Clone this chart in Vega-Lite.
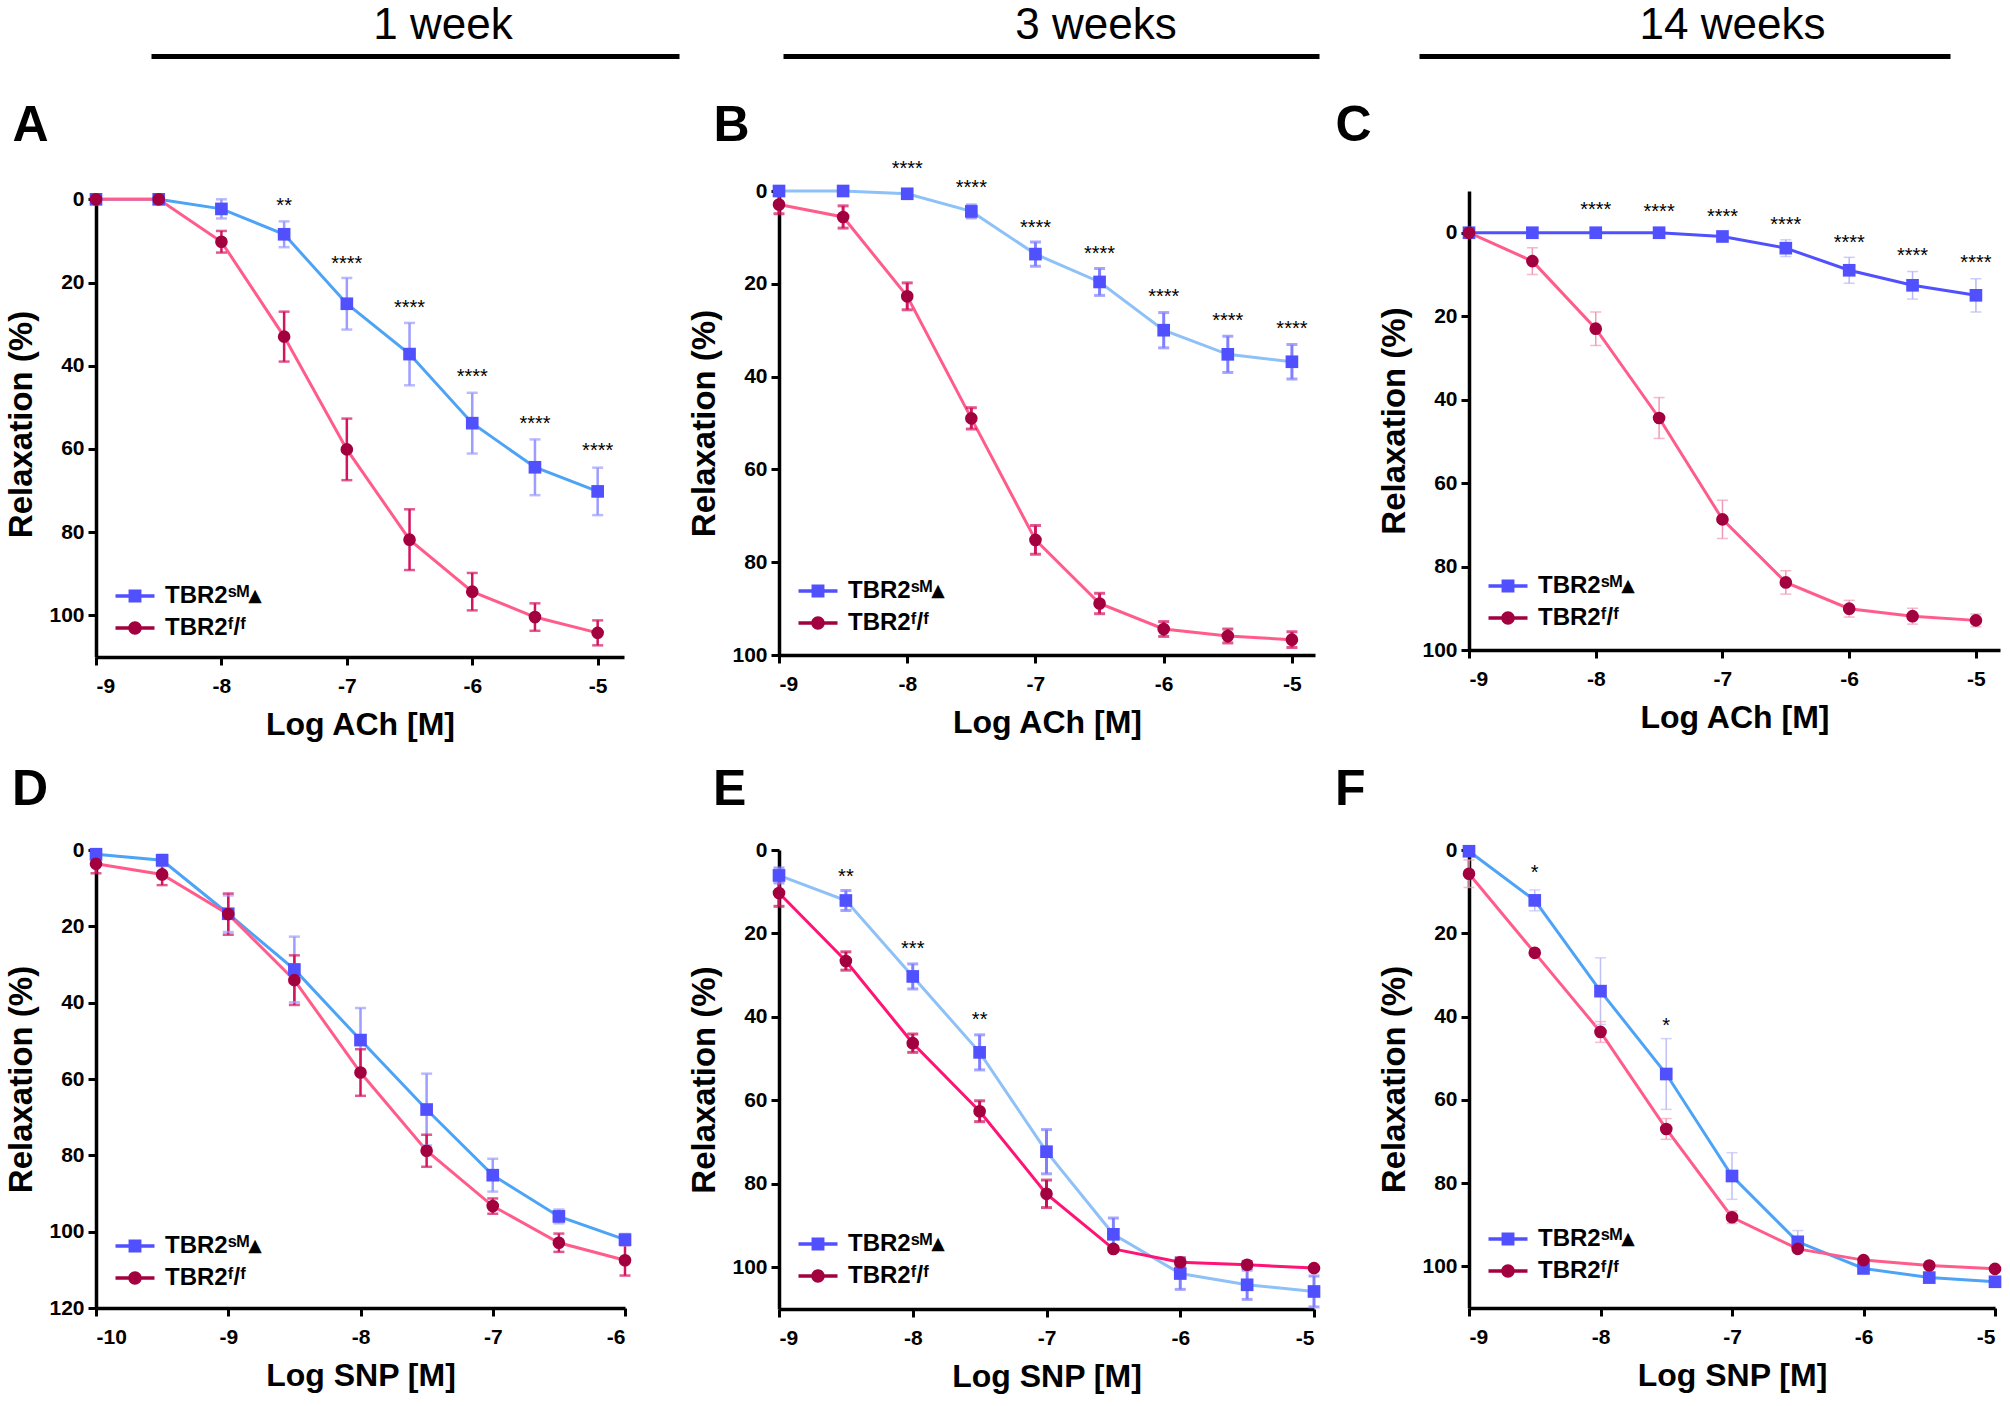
{
"$schema": "https://vega.github.io/schema/vega-lite/v6.json",
"background": "white",
"padding": {"left": 5, "top": 4, "right": 5, "bottom": 5},
"datasets": {
"A": [
{"logM": -9, "group": "TBR2ˢᴹ▴", "relaxation": 0, "lo": 0, "hi": 0},
{"logM": -8.5, "group": "TBR2ˢᴹ▴", "relaxation": 0, "lo": 0, "hi": 0},
{"logM": -8, "group": "TBR2ˢᴹ▴", "relaxation": 2.3, "lo": 0, "hi": 4.6},
{"logM": -7.5, "group": "TBR2ˢᴹ▴", "relaxation": 8.4, "lo": 5.3, "hi": 11.5},
{"logM": -7, "group": "TBR2ˢᴹ▴", "relaxation": 25.1, "lo": 18.9, "hi": 31.3},
{"logM": -6.5, "group": "TBR2ˢᴹ▴", "relaxation": 37.2, "lo": 29.7, "hi": 44.7},
{"logM": -6, "group": "TBR2ˢᴹ▴", "relaxation": 53.8, "lo": 46.5, "hi": 61.1},
{"logM": -5.5, "group": "TBR2ˢᴹ▴", "relaxation": 64.4, "lo": 57.7, "hi": 71.1},
{"logM": -5, "group": "TBR2ˢᴹ▴", "relaxation": 70.2, "lo": 64.5, "hi": 75.9},
{"logM": -9, "group": "TBR2ᶠ/ᶠ", "relaxation": 0, "lo": 0, "hi": 0},
{"logM": -8.5, "group": "TBR2ᶠ/ᶠ", "relaxation": 0, "lo": 0, "hi": 0},
{"logM": -8, "group": "TBR2ᶠ/ᶠ", "relaxation": 10.2, "lo": 7.6, "hi": 12.8},
{"logM": -7.5, "group": "TBR2ᶠ/ᶠ", "relaxation": 33, "lo": 27, "hi": 39},
{"logM": -7, "group": "TBR2ᶠ/ᶠ", "relaxation": 60.1, "lo": 52.7, "hi": 67.5},
{"logM": -6.5, "group": "TBR2ᶠ/ᶠ", "relaxation": 81.8, "lo": 74.5, "hi": 89.1},
{"logM": -6, "group": "TBR2ᶠ/ᶠ", "relaxation": 94.3, "lo": 89.8, "hi": 98.8},
{"logM": -5.5, "group": "TBR2ᶠ/ᶠ", "relaxation": 100.4, "lo": 97.1, "hi": 103.7},
{"logM": -5, "group": "TBR2ᶠ/ᶠ", "relaxation": 104.2, "lo": 101.2, "hi": 107.2}
],
"A_stars": [
{"logM": -7.5, "relaxation": 0.6, "label": "**"},
{"logM": -7, "relaxation": 14.6, "label": "****"},
{"logM": -6.5, "relaxation": 25.1, "label": "****"},
{"logM": -6, "relaxation": 41.8, "label": "****"},
{"logM": -5.5, "relaxation": 53, "label": "****"},
{"logM": -5, "relaxation": 59.6, "label": "****"}
],
"B": [
{"logM": -9, "group": "TBR2ˢᴹ▴", "relaxation": 0, "lo": 0, "hi": 0},
{"logM": -8.5, "group": "TBR2ˢᴹ▴", "relaxation": 0, "lo": 0, "hi": 0},
{"logM": -8, "group": "TBR2ˢᴹ▴", "relaxation": 0.6, "lo": 0, "hi": 1.2},
{"logM": -7.5, "group": "TBR2ˢᴹ▴", "relaxation": 4.4, "lo": 3, "hi": 5.8},
{"logM": -7, "group": "TBR2ˢᴹ▴", "relaxation": 13.6, "lo": 11, "hi": 16.2},
{"logM": -6.5, "group": "TBR2ˢᴹ▴", "relaxation": 19.6, "lo": 16.7, "hi": 22.5},
{"logM": -6, "group": "TBR2ˢᴹ▴", "relaxation": 30, "lo": 26.2, "hi": 33.8},
{"logM": -5.5, "group": "TBR2ˢᴹ▴", "relaxation": 35.2, "lo": 31.3, "hi": 39.1},
{"logM": -5, "group": "TBR2ˢᴹ▴", "relaxation": 36.8, "lo": 33.1, "hi": 40.5},
{"logM": -9, "group": "TBR2ᶠ/ᶠ", "relaxation": 2.9, "lo": 0.9, "hi": 4.9},
{"logM": -8.5, "group": "TBR2ᶠ/ᶠ", "relaxation": 5.6, "lo": 3.2, "hi": 8},
{"logM": -8, "group": "TBR2ᶠ/ᶠ", "relaxation": 22.7, "lo": 19.8, "hi": 25.6},
{"logM": -7.5, "group": "TBR2ᶠ/ᶠ", "relaxation": 49, "lo": 46.7, "hi": 51.3},
{"logM": -7, "group": "TBR2ᶠ/ᶠ", "relaxation": 75.2, "lo": 72.1, "hi": 78.3},
{"logM": -6.5, "group": "TBR2ᶠ/ᶠ", "relaxation": 88.9, "lo": 86.7, "hi": 91.1},
{"logM": -6, "group": "TBR2ᶠ/ᶠ", "relaxation": 94.4, "lo": 92.8, "hi": 96},
{"logM": -5.5, "group": "TBR2ᶠ/ᶠ", "relaxation": 95.9, "lo": 94.4, "hi": 97.4},
{"logM": -5, "group": "TBR2ᶠ/ᶠ", "relaxation": 96.7, "lo": 95, "hi": 98.4}
],
"B_stars": [
{"logM": -8, "relaxation": -5.7, "label": "****"},
{"logM": -7.5, "relaxation": -1.5, "label": "****"},
{"logM": -7, "relaxation": 7.1, "label": "****"},
{"logM": -6.5, "relaxation": 12.8, "label": "****"},
{"logM": -6, "relaxation": 21.9, "label": "****"},
{"logM": -5.5, "relaxation": 27.1, "label": "****"},
{"logM": -5, "relaxation": 28.9, "label": "****"}
],
"C": [
{"logM": -9, "group": "TBR2ˢᴹ▴", "relaxation": 0, "lo": 0, "hi": 0},
{"logM": -8.5, "group": "TBR2ˢᴹ▴", "relaxation": 0, "lo": 0, "hi": 0},
{"logM": -8, "group": "TBR2ˢᴹ▴", "relaxation": 0, "lo": 0, "hi": 0},
{"logM": -7.5, "group": "TBR2ˢᴹ▴", "relaxation": 0, "lo": 0, "hi": 0},
{"logM": -7, "group": "TBR2ˢᴹ▴", "relaxation": 0.9, "lo": 0.3, "hi": 1.5},
{"logM": -6.5, "group": "TBR2ˢᴹ▴", "relaxation": 3.7, "lo": 1.7, "hi": 5.7},
{"logM": -6, "group": "TBR2ˢᴹ▴", "relaxation": 9, "lo": 5.9, "hi": 12.1},
{"logM": -5.5, "group": "TBR2ˢᴹ▴", "relaxation": 12.6, "lo": 9.3, "hi": 15.9},
{"logM": -5, "group": "TBR2ˢᴹ▴", "relaxation": 15, "lo": 11, "hi": 19},
{"logM": -9, "group": "TBR2ᶠ/ᶠ", "relaxation": 0, "lo": 0, "hi": 0},
{"logM": -8.5, "group": "TBR2ᶠ/ᶠ", "relaxation": 6.8, "lo": 3.6, "hi": 10},
{"logM": -8, "group": "TBR2ᶠ/ᶠ", "relaxation": 23, "lo": 19, "hi": 27},
{"logM": -7.5, "group": "TBR2ᶠ/ᶠ", "relaxation": 44.4, "lo": 39.5, "hi": 49.3},
{"logM": -7, "group": "TBR2ᶠ/ᶠ", "relaxation": 68.7, "lo": 64.1, "hi": 73.3},
{"logM": -6.5, "group": "TBR2ᶠ/ᶠ", "relaxation": 83.8, "lo": 81, "hi": 86.6},
{"logM": -6, "group": "TBR2ᶠ/ᶠ", "relaxation": 90.1, "lo": 88.1, "hi": 92.1},
{"logM": -5.5, "group": "TBR2ᶠ/ᶠ", "relaxation": 91.9, "lo": 90, "hi": 93.8},
{"logM": -5, "group": "TBR2ᶠ/ᶠ", "relaxation": 92.9, "lo": 91.4, "hi": 94.4}
],
"C_stars": [
{"logM": -8, "relaxation": -6.4, "label": "****"},
{"logM": -7.5, "relaxation": -5.9, "label": "****"},
{"logM": -7, "relaxation": -4.8, "label": "****"},
{"logM": -6.5, "relaxation": -2.7, "label": "****"},
{"logM": -6, "relaxation": 1.5, "label": "****"},
{"logM": -5.5, "relaxation": 4.5, "label": "****"},
{"logM": -5, "relaxation": 6.4, "label": "****"}
],
"D": [
{"logM": -10, "group": "TBR2ˢᴹ▴", "relaxation": 1.1, "lo": 0.1, "hi": 2.1},
{"logM": -9.5, "group": "TBR2ˢᴹ▴", "relaxation": 2.7, "lo": 1.2, "hi": 4.2},
{"logM": -9, "group": "TBR2ˢᴹ▴", "relaxation": 16.7, "lo": 11.9, "hi": 21.5},
{"logM": -8.5, "group": "TBR2ˢᴹ▴", "relaxation": 31.3, "lo": 22.7, "hi": 39.9},
{"logM": -8, "group": "TBR2ˢᴹ▴", "relaxation": 49.8, "lo": 41.4, "hi": 58.2},
{"logM": -7.5, "group": "TBR2ˢᴹ▴", "relaxation": 68, "lo": 58.6, "hi": 77.4},
{"logM": -7, "group": "TBR2ˢᴹ▴", "relaxation": 85.2, "lo": 80.9, "hi": 89.5},
{"logM": -6.5, "group": "TBR2ˢᴹ▴", "relaxation": 96, "lo": 94.2, "hi": 97.8},
{"logM": -6, "group": "TBR2ˢᴹ▴", "relaxation": 102.1, "lo": 100.6, "hi": 103.6},
{"logM": -10, "group": "TBR2ᶠ/ᶠ", "relaxation": 3.6, "lo": 1.1, "hi": 6.1},
{"logM": -9.5, "group": "TBR2ᶠ/ᶠ", "relaxation": 6.4, "lo": 3.6, "hi": 9.2},
{"logM": -9, "group": "TBR2ᶠ/ᶠ", "relaxation": 16.8, "lo": 11.4, "hi": 22.2},
{"logM": -8.5, "group": "TBR2ᶠ/ᶠ", "relaxation": 34.1, "lo": 27.6, "hi": 40.6},
{"logM": -8, "group": "TBR2ᶠ/ᶠ", "relaxation": 58.3, "lo": 52.2, "hi": 64.4},
{"logM": -7.5, "group": "TBR2ᶠ/ᶠ", "relaxation": 78.8, "lo": 74.6, "hi": 83},
{"logM": -7, "group": "TBR2ᶠ/ᶠ", "relaxation": 93.3, "lo": 91.3, "hi": 95.3},
{"logM": -6.5, "group": "TBR2ᶠ/ᶠ", "relaxation": 102.9, "lo": 100.5, "hi": 105.3},
{"logM": -6, "group": "TBR2ᶠ/ᶠ", "relaxation": 107.5, "lo": 103.5, "hi": 111.5}
],
"E": [
{"logM": -9, "group": "TBR2ˢᴹ▴", "relaxation": 6.1, "lo": 4.3, "hi": 7.9},
{"logM": -8.5, "group": "TBR2ˢᴹ▴", "relaxation": 12.1, "lo": 9.7, "hi": 14.5},
{"logM": -8, "group": "TBR2ˢᴹ▴", "relaxation": 30.3, "lo": 27.3, "hi": 33.3},
{"logM": -7.5, "group": "TBR2ˢᴹ▴", "relaxation": 48.5, "lo": 44.3, "hi": 52.7},
{"logM": -7, "group": "TBR2ˢᴹ▴", "relaxation": 72.3, "lo": 67, "hi": 77.6},
{"logM": -6.5, "group": "TBR2ˢᴹ▴", "relaxation": 92.1, "lo": 88.2, "hi": 96},
{"logM": -6, "group": "TBR2ˢᴹ▴", "relaxation": 101.5, "lo": 97.7, "hi": 105.3},
{"logM": -5.5, "group": "TBR2ˢᴹ▴", "relaxation": 104.2, "lo": 100.7, "hi": 107.7},
{"logM": -5, "group": "TBR2ˢᴹ▴", "relaxation": 105.8, "lo": 102.1, "hi": 109.5},
{"logM": -9, "group": "TBR2ᶠ/ᶠ", "relaxation": 10.3, "lo": 7.1, "hi": 13.5},
{"logM": -8.5, "group": "TBR2ᶠ/ᶠ", "relaxation": 26.6, "lo": 24.4, "hi": 28.8},
{"logM": -8, "group": "TBR2ᶠ/ᶠ", "relaxation": 46.3, "lo": 44.1, "hi": 48.5},
{"logM": -7.5, "group": "TBR2ᶠ/ᶠ", "relaxation": 62.6, "lo": 60.1, "hi": 65.1},
{"logM": -7, "group": "TBR2ᶠ/ᶠ", "relaxation": 82.4, "lo": 79.1, "hi": 85.7},
{"logM": -6.5, "group": "TBR2ᶠ/ᶠ", "relaxation": 95.6, "lo": 95, "hi": 96.2},
{"logM": -6, "group": "TBR2ᶠ/ᶠ", "relaxation": 98.8, "lo": 97.8, "hi": 99.8},
{"logM": -5.5, "group": "TBR2ᶠ/ᶠ", "relaxation": 99.4, "lo": 98.6, "hi": 100.2},
{"logM": -5, "group": "TBR2ᶠ/ᶠ", "relaxation": 100.2, "lo": 100.2, "hi": 100.2}
],
"E_stars": [
{"logM": -8.5, "relaxation": 5.6, "label": "**"},
{"logM": -8, "relaxation": 22.7, "label": "***"},
{"logM": -7.5, "relaxation": 39.7, "label": "**"}
],
"F": [
{"logM": -9, "group": "TBR2ˢᴹ▴", "relaxation": 0.3, "lo": 0, "hi": 0.6},
{"logM": -8.5, "group": "TBR2ˢᴹ▴", "relaxation": 12.1, "lo": 9.6, "hi": 14.6},
{"logM": -8, "group": "TBR2ˢᴹ▴", "relaxation": 33.9, "lo": 25.9, "hi": 41.9},
{"logM": -7.5, "group": "TBR2ˢᴹ▴", "relaxation": 53.8, "lo": 45.3, "hi": 62.3},
{"logM": -7, "group": "TBR2ˢᴹ▴", "relaxation": 78.3, "lo": 72.7, "hi": 83.9},
{"logM": -6.5, "group": "TBR2ˢᴹ▴", "relaxation": 94.1, "lo": 91.4, "hi": 96.8},
{"logM": -6, "group": "TBR2ˢᴹ▴", "relaxation": 100.5, "lo": 99.7, "hi": 101.3},
{"logM": -5.5, "group": "TBR2ˢᴹ▴", "relaxation": 102.7, "lo": 102, "hi": 103.4},
{"logM": -5, "group": "TBR2ˢᴹ▴", "relaxation": 103.7, "lo": 103, "hi": 104.4},
{"logM": -9, "group": "TBR2ᶠ/ᶠ", "relaxation": 5.7, "lo": 2.4, "hi": 9},
{"logM": -8.5, "group": "TBR2ᶠ/ᶠ", "relaxation": 24.7, "lo": 24, "hi": 25.4},
{"logM": -8, "group": "TBR2ᶠ/ᶠ", "relaxation": 43.7, "lo": 41.2, "hi": 46.2},
{"logM": -7.5, "group": "TBR2ᶠ/ᶠ", "relaxation": 67, "lo": 64.5, "hi": 69.5},
{"logM": -7, "group": "TBR2ᶠ/ᶠ", "relaxation": 88.2, "lo": 86.7, "hi": 89.7},
{"logM": -6.5, "group": "TBR2ᶠ/ᶠ", "relaxation": 95.8, "lo": 95.2, "hi": 96.4},
{"logM": -6, "group": "TBR2ᶠ/ᶠ", "relaxation": 98.5, "lo": 98, "hi": 99},
{"logM": -5.5, "group": "TBR2ᶠ/ᶠ", "relaxation": 99.8, "lo": 99.8, "hi": 99.8},
{"logM": -5, "group": "TBR2ᶠ/ᶠ", "relaxation": 100.6, "lo": 100.6, "hi": 100.6}
],
"F_stars": [
{"logM": -8.5, "relaxation": 4.6, "label": "*"},
{"logM": -7.5, "relaxation": 41.2, "label": "*"}
]
},
"columns": 3,
"align": "each",
"bounds": "flush",
"spacing": {"row": 193, "column": 154},
"concat": [
{
"width": 528, "height": 466,
"title": {"text": "1 week", "fontSize": 44, "fontWeight": "normal", "anchor": "middle", "dx": 83, "offset": 8},
"layer": [
{
"data": {"name": "A"},
"encoding": {
"x": {"field": "logM", "type": "quantitative", "scale": {"domain": [-9, -4.79], "nice": false, "zero": false}, "axis": {"title": "Log ACh [M]", "values": [-9, -8, -7, -6, -5], "labelExpr": "replace(datum.label, '−', '-')"}},
"y": {"field": "relaxation", "type": "quantitative", "scale": {"domain": [-2, 110], "reverse": true, "nice": false, "zero": false}, "axis": {"title": "Relaxation (%)", "values": [0, 20, 40, 60, 80, 100], "domainDash": [458, 8], "domainDashOffset": 458}}
},
"layer": [
{"mark": {"type": "line", "strokeWidth": 3}, "encoding": {"color": {"field": "group", "type": "nominal", "scale": {"domain": ["TBR2ˢᴹ▴", "TBR2ᶠ/ᶠ"], "range": ["#4da3f5", "#ff5c8c"]}, "legend": null}}},
{"mark": {"type": "rule", "strokeWidth": 2.5}, "encoding": {"y": {"field": "lo", "type": "quantitative", "scale": {"domain": [-2, 110], "reverse": true, "nice": false, "zero": false}, "axis": {"title": "Relaxation (%)", "values": [0, 20, 40, 60, 80, 100], "domainDash": [458, 8], "domainDashOffset": 458}}, "y2": {"field": "hi"}, "color": {"field": "group", "type": "nominal", "scale": {"domain": ["TBR2ˢᴹ▴", "TBR2ᶠ/ᶠ"], "range": ["#9d9dff", "#d3145f"]}, "legend": null}}},
{"mark": {"type": "tick", "orient": "horizontal", "size": 11, "thickness": 2.5}, "encoding": {"y": {"field": "lo", "type": "quantitative", "scale": {"domain": [-2, 110], "reverse": true, "nice": false, "zero": false}, "axis": {"title": "Relaxation (%)", "values": [0, 20, 40, 60, 80, 100], "domainDash": [458, 8], "domainDashOffset": 458}}, "color": {"field": "group", "type": "nominal", "scale": {"domain": ["TBR2ˢᴹ▴", "TBR2ᶠ/ᶠ"], "range": ["#9d9dff", "#d3145f"]}, "legend": null}}},
{"mark": {"type": "tick", "orient": "horizontal", "size": 11, "thickness": 2.5}, "encoding": {"y": {"field": "hi", "type": "quantitative", "scale": {"domain": [-2, 110], "reverse": true, "nice": false, "zero": false}, "axis": {"title": "Relaxation (%)", "values": [0, 20, 40, 60, 80, 100], "domainDash": [458, 8], "domainDashOffset": 458}}, "color": {"field": "group", "type": "nominal", "scale": {"domain": ["TBR2ˢᴹ▴", "TBR2ᶠ/ᶠ"], "range": ["#9d9dff", "#d3145f"]}, "legend": null}}},
{"mark": {"type": "point", "filled": true, "opacity": 1, "size": 160}, "encoding": {"color": {"field": "group", "type": "nominal", "scale": {"domain": ["TBR2ˢᴹ▴", "TBR2ᶠ/ᶠ"], "range": ["#5050ff", "#a3003f"]}, "legend": null}, "shape": {"field": "group", "type": "nominal", "scale": {"domain": ["TBR2ˢᴹ▴", "TBR2ᶠ/ᶠ"], "range": ["square", "circle"]}, "legend": null}}},
{"mark": {"type": "point", "filled": true, "opacity": 1, "size": 0}, "encoding": {
"color": {"field": "group", "type": "nominal", "scale": {"domain": ["TBR2ˢᴹ▴", "TBR2ᶠ/ᶠ"], "range": ["#5050ff", "#a3003f"]}, "legend": {"title": null, "orient": "none", "legendX": 23, "legendY": 389}},
"shape": {"field": "group", "type": "nominal", "scale": {"domain": ["TBR2ˢᴹ▴", "TBR2ᶠ/ᶠ"], "range": ["M-1.3,-0.12H1.3V0.12H-1.3Z M-0.43,-0.43H0.43V0.43H-0.43Z", "M-1.3,-0.12H1.3V0.12H-1.3Z M0.45,0A0.45,0.45,0,1,1,-0.45,0A0.45,0.45,0,1,1,0.45,0Z"]}, "legend": {"title": null, "orient": "none", "legendX": 23, "legendY": 389}}}}
],
"resolve": {"scale": {"color": "independent", "shape": "independent"}}
},
{
"data": {"name": "A_stars"},
"mark": {"type": "text", "fontSize": 20, "baseline": "middle", "dy": 4},
"encoding": {
"x": {"field": "logM", "type": "quantitative", "scale": {"domain": [-9, -4.79], "nice": false, "zero": false}, "axis": {"orient": "top", "offset": 135, "position": 55, "domainWidth": 5, "domainColor": "black", "ticks": false, "labels": false, "grid": false, "title": "A", "titleFontSize": 50, "titleFontWeight": "bold", "titleAngle": 0, "titleAlign": "left", "titleBaseline": "alphabetic", "titleX": -139, "titleY": 84}},
"y": {"field": "relaxation", "type": "quantitative", "scale": {"domain": [-2, 110], "reverse": true, "nice": false, "zero": false}, "axis": {"title": "Relaxation (%)", "values": [0, 20, 40, 60, 80, 100], "domainDash": [458, 8], "domainDashOffset": 458}},
"text": {"field": "label"}
}
}
],
"resolve": {"axis": {"x": "independent"}}
},
{
"width": 536, "height": 464,
"title": {"text": "3 weeks", "fontSize": 44, "fontWeight": "normal", "anchor": "middle", "dx": 49, "offset": 8},
"layer": [
{
"data": {"name": "B"},
"encoding": {
"x": {"field": "logM", "type": "quantitative", "scale": {"domain": [-9, -4.82], "nice": false, "zero": false}, "axis": {"title": "Log ACh [M]", "values": [-9, -8, -7, -6, -5], "labelExpr": "replace(datum.label, '−', '-')"}},
"y": {"field": "relaxation", "type": "quantitative", "scale": {"domain": [0, 100], "reverse": true, "nice": false, "zero": false}, "axis": {"title": "Relaxation (%)", "values": [0, 20, 40, 60, 80, 100]}}
},
"layer": [
{"mark": {"type": "line", "strokeWidth": 3}, "encoding": {"color": {"field": "group", "type": "nominal", "scale": {"domain": ["TBR2ˢᴹ▴", "TBR2ᶠ/ᶠ"], "range": ["#8ec1f7", "#ff5c8c"]}, "legend": null}}},
{"mark": {"type": "rule", "strokeWidth": 3}, "encoding": {"y": {"field": "lo", "type": "quantitative", "scale": {"domain": [0, 100], "reverse": true, "nice": false, "zero": false}, "axis": {"title": "Relaxation (%)", "values": [0, 20, 40, 60, 80, 100]}}, "y2": {"field": "hi"}, "color": {"field": "group", "type": "nominal", "scale": {"domain": ["TBR2ˢᴹ▴", "TBR2ᶠ/ᶠ"], "range": ["#8080ff", "#d3145f"]}, "legend": null}}},
{"mark": {"type": "tick", "orient": "horizontal", "size": 11, "thickness": 3}, "encoding": {"y": {"field": "lo", "type": "quantitative", "scale": {"domain": [0, 100], "reverse": true, "nice": false, "zero": false}, "axis": {"title": "Relaxation (%)", "values": [0, 20, 40, 60, 80, 100]}}, "color": {"field": "group", "type": "nominal", "scale": {"domain": ["TBR2ˢᴹ▴", "TBR2ᶠ/ᶠ"], "range": ["#8080ff", "#d3145f"]}, "legend": null}}},
{"mark": {"type": "tick", "orient": "horizontal", "size": 11, "thickness": 3}, "encoding": {"y": {"field": "hi", "type": "quantitative", "scale": {"domain": [0, 100], "reverse": true, "nice": false, "zero": false}, "axis": {"title": "Relaxation (%)", "values": [0, 20, 40, 60, 80, 100]}}, "color": {"field": "group", "type": "nominal", "scale": {"domain": ["TBR2ˢᴹ▴", "TBR2ᶠ/ᶠ"], "range": ["#8080ff", "#d3145f"]}, "legend": null}}},
{"mark": {"type": "point", "filled": true, "opacity": 1, "size": 160}, "encoding": {"color": {"field": "group", "type": "nominal", "scale": {"domain": ["TBR2ˢᴹ▴", "TBR2ᶠ/ᶠ"], "range": ["#5050ff", "#a3003f"]}, "legend": null}, "shape": {"field": "group", "type": "nominal", "scale": {"domain": ["TBR2ˢᴹ▴", "TBR2ᶠ/ᶠ"], "range": ["square", "circle"]}, "legend": null}}},
{"mark": {"type": "point", "filled": true, "opacity": 1, "size": 0}, "encoding": {
"color": {"field": "group", "type": "nominal", "scale": {"domain": ["TBR2ˢᴹ▴", "TBR2ᶠ/ᶠ"], "range": ["#5050ff", "#a3003f"]}, "legend": {"title": null, "orient": "none", "legendX": 23, "legendY": 384}},
"shape": {"field": "group", "type": "nominal", "scale": {"domain": ["TBR2ˢᴹ▴", "TBR2ᶠ/ᶠ"], "range": ["M-1.3,-0.12H1.3V0.12H-1.3Z M-0.43,-0.43H0.43V0.43H-0.43Z", "M-1.3,-0.12H1.3V0.12H-1.3Z M0.45,0A0.45,0.45,0,1,1,-0.45,0A0.45,0.45,0,1,1,0.45,0Z"]}, "legend": {"title": null, "orient": "none", "legendX": 23, "legendY": 384}}}}
],
"resolve": {"scale": {"color": "independent", "shape": "independent"}}
},
{
"data": {"name": "B_stars"},
"mark": {"type": "text", "fontSize": 20, "baseline": "middle", "dy": 4},
"encoding": {
"x": {"field": "logM", "type": "quantitative", "scale": {"domain": [-9, -4.82], "nice": false, "zero": false}, "axis": {"orient": "top", "offset": 135, "position": 4, "domainWidth": 5, "domainColor": "black", "ticks": false, "labels": false, "grid": false, "title": "B", "titleFontSize": 50, "titleFontWeight": "bold", "titleAngle": 0, "titleAlign": "left", "titleBaseline": "alphabetic", "titleX": -70, "titleY": 84}},
"y": {"field": "relaxation", "type": "quantitative", "scale": {"domain": [0, 100], "reverse": true, "nice": false, "zero": false}, "axis": {"title": "Relaxation (%)", "values": [0, 20, 40, 60, 80, 100]}},
"text": {"field": "label"}
}
}
],
"resolve": {"axis": {"x": "independent"}}
},
{
"width": 531, "height": 459,
"title": {"text": "14 weeks", "fontSize": 44, "fontWeight": "normal", "anchor": "middle", "dx": -2, "offset": 8},
"layer": [
{
"data": {"name": "C"},
"encoding": {
"x": {"field": "logM", "type": "quantitative", "scale": {"domain": [-9, -4.81], "nice": false, "zero": false}, "axis": {"title": "Log ACh [M]", "values": [-9, -8, -7, -6, -5], "labelExpr": "replace(datum.label, '−', '-')"}},
"y": {"field": "relaxation", "type": "quantitative", "scale": {"domain": [-10, 100], "reverse": true, "nice": false, "zero": false}, "axis": {"title": "Relaxation (%)", "values": [0, 20, 40, 60, 80, 100]}}
},
"layer": [
{"mark": {"type": "line", "strokeWidth": 3}, "encoding": {"color": {"field": "group", "type": "nominal", "scale": {"domain": ["TBR2ˢᴹ▴", "TBR2ᶠ/ᶠ"], "range": ["#5050ff", "#ff5c8c"]}, "legend": null}}},
{"mark": {"type": "rule", "strokeWidth": 1.5}, "encoding": {"y": {"field": "lo", "type": "quantitative", "scale": {"domain": [-10, 100], "reverse": true, "nice": false, "zero": false}, "axis": {"title": "Relaxation (%)", "values": [0, 20, 40, 60, 80, 100]}}, "y2": {"field": "hi"}, "color": {"field": "group", "type": "nominal", "scale": {"domain": ["TBR2ˢᴹ▴", "TBR2ᶠ/ᶠ"], "range": ["#b8b8f8", "#f29ab5"]}, "legend": null}}},
{"mark": {"type": "tick", "orient": "horizontal", "size": 11, "thickness": 1.5}, "encoding": {"y": {"field": "lo", "type": "quantitative", "scale": {"domain": [-10, 100], "reverse": true, "nice": false, "zero": false}, "axis": {"title": "Relaxation (%)", "values": [0, 20, 40, 60, 80, 100]}}, "color": {"field": "group", "type": "nominal", "scale": {"domain": ["TBR2ˢᴹ▴", "TBR2ᶠ/ᶠ"], "range": ["#b8b8f8", "#f29ab5"]}, "legend": null}}},
{"mark": {"type": "tick", "orient": "horizontal", "size": 11, "thickness": 1.5}, "encoding": {"y": {"field": "hi", "type": "quantitative", "scale": {"domain": [-10, 100], "reverse": true, "nice": false, "zero": false}, "axis": {"title": "Relaxation (%)", "values": [0, 20, 40, 60, 80, 100]}}, "color": {"field": "group", "type": "nominal", "scale": {"domain": ["TBR2ˢᴹ▴", "TBR2ᶠ/ᶠ"], "range": ["#b8b8f8", "#f29ab5"]}, "legend": null}}},
{"mark": {"type": "point", "filled": true, "opacity": 1, "size": 160}, "encoding": {"color": {"field": "group", "type": "nominal", "scale": {"domain": ["TBR2ˢᴹ▴", "TBR2ᶠ/ᶠ"], "range": ["#5050ff", "#a3003f"]}, "legend": null}, "shape": {"field": "group", "type": "nominal", "scale": {"domain": ["TBR2ˢᴹ▴", "TBR2ᶠ/ᶠ"], "range": ["square", "circle"]}, "legend": null}}},
{"mark": {"type": "point", "filled": true, "opacity": 1, "size": 0}, "encoding": {
"color": {"field": "group", "type": "nominal", "scale": {"domain": ["TBR2ˢᴹ▴", "TBR2ᶠ/ᶠ"], "range": ["#5050ff", "#a3003f"]}, "legend": {"title": null, "orient": "none", "legendX": 23, "legendY": 379}},
"shape": {"field": "group", "type": "nominal", "scale": {"domain": ["TBR2ˢᴹ▴", "TBR2ᶠ/ᶠ"], "range": ["M-1.3,-0.12H1.3V0.12H-1.3Z M-0.43,-0.43H0.43V0.43H-0.43Z", "M-1.3,-0.12H1.3V0.12H-1.3Z M0.45,0A0.45,0.45,0,1,1,-0.45,0A0.45,0.45,0,1,1,0.45,0Z"]}, "legend": {"title": null, "orient": "none", "legendX": 23, "legendY": 379}}}}
],
"resolve": {"scale": {"color": "independent", "shape": "independent"}}
},
{
"data": {"name": "C_stars"},
"mark": {"type": "text", "fontSize": 20, "baseline": "middle", "dy": 4},
"encoding": {
"x": {"field": "logM", "type": "quantitative", "scale": {"domain": [-9, -4.81], "nice": false, "zero": false}, "axis": {"orient": "top", "offset": 135, "position": -50, "domainWidth": 5, "domainColor": "black", "ticks": false, "labels": false, "grid": false, "title": "C", "titleFontSize": 50, "titleFontWeight": "bold", "titleAngle": 0, "titleAlign": "left", "titleBaseline": "alphabetic", "titleX": -84, "titleY": 84}},
"y": {"field": "relaxation", "type": "quantitative", "scale": {"domain": [-10, 100], "reverse": true, "nice": false, "zero": false}, "axis": {"title": "Relaxation (%)", "values": [0, 20, 40, 60, 80, 100]}},
"text": {"field": "label"}
}
}
],
"resolve": {"axis": {"x": "independent"}}
},
{
"width": 529, "height": 458,
"title": {"text": "D", "dx": -84, "offset": 24},
"data": {"name": "D"},
"encoding": {
"x": {"field": "logM", "type": "quantitative", "scale": {"domain": [-10, -6], "nice": false, "zero": false}, "axis": {"title": "Log SNP [M]", "values": [-10, -9, -8, -7, -6], "labelExpr": "replace(datum.label, '−', '-')"}},
"y": {"field": "relaxation", "type": "quantitative", "scale": {"domain": [0, 120], "reverse": true, "nice": false, "zero": false}, "axis": {"title": "Relaxation (%)", "values": [0, 20, 40, 60, 80, 100, 120]}}
},
"layer": [
{"mark": {"type": "line", "strokeWidth": 3}, "encoding": {"color": {"field": "group", "type": "nominal", "scale": {"domain": ["TBR2ˢᴹ▴", "TBR2ᶠ/ᶠ"], "range": ["#4da3f5", "#ff5c8c"]}, "legend": null}}},
{"mark": {"type": "rule", "strokeWidth": 2.5}, "encoding": {"y": {"field": "lo", "type": "quantitative", "scale": {"domain": [0, 120], "reverse": true, "nice": false, "zero": false}, "axis": {"title": "Relaxation (%)", "values": [0, 20, 40, 60, 80, 100, 120]}}, "y2": {"field": "hi"}, "color": {"field": "group", "type": "nominal", "scale": {"domain": ["TBR2ˢᴹ▴", "TBR2ᶠ/ᶠ"], "range": ["#9d9dff", "#d3145f"]}, "legend": null}}},
{"mark": {"type": "tick", "orient": "horizontal", "size": 11, "thickness": 2.5}, "encoding": {"y": {"field": "lo", "type": "quantitative", "scale": {"domain": [0, 120], "reverse": true, "nice": false, "zero": false}, "axis": {"title": "Relaxation (%)", "values": [0, 20, 40, 60, 80, 100, 120]}}, "color": {"field": "group", "type": "nominal", "scale": {"domain": ["TBR2ˢᴹ▴", "TBR2ᶠ/ᶠ"], "range": ["#9d9dff", "#d3145f"]}, "legend": null}}},
{"mark": {"type": "tick", "orient": "horizontal", "size": 11, "thickness": 2.5}, "encoding": {"y": {"field": "hi", "type": "quantitative", "scale": {"domain": [0, 120], "reverse": true, "nice": false, "zero": false}, "axis": {"title": "Relaxation (%)", "values": [0, 20, 40, 60, 80, 100, 120]}}, "color": {"field": "group", "type": "nominal", "scale": {"domain": ["TBR2ˢᴹ▴", "TBR2ᶠ/ᶠ"], "range": ["#9d9dff", "#d3145f"]}, "legend": null}}},
{"mark": {"type": "point", "filled": true, "opacity": 1, "size": 160}, "encoding": {"color": {"field": "group", "type": "nominal", "scale": {"domain": ["TBR2ˢᴹ▴", "TBR2ᶠ/ᶠ"], "range": ["#5050ff", "#a3003f"]}, "legend": null}, "shape": {"field": "group", "type": "nominal", "scale": {"domain": ["TBR2ˢᴹ▴", "TBR2ᶠ/ᶠ"], "range": ["square", "circle"]}, "legend": null}}},
{"mark": {"type": "point", "filled": true, "opacity": 1, "size": 0}, "encoding": {
"color": {"field": "group", "type": "nominal", "scale": {"domain": ["TBR2ˢᴹ▴", "TBR2ᶠ/ᶠ"], "range": ["#5050ff", "#a3003f"]}, "legend": {"title": null, "orient": "none", "legendX": 23, "legendY": 380}},
"shape": {"field": "group", "type": "nominal", "scale": {"domain": ["TBR2ˢᴹ▴", "TBR2ᶠ/ᶠ"], "range": ["M-1.3,-0.12H1.3V0.12H-1.3Z M-0.43,-0.43H0.43V0.43H-0.43Z", "M-1.3,-0.12H1.3V0.12H-1.3Z M0.45,0A0.45,0.45,0,1,1,-0.45,0A0.45,0.45,0,1,1,0.45,0Z"]}, "legend": {"title": null, "orient": "none", "legendX": 23, "legendY": 380}}}}
],
"resolve": {"scale": {"color": "independent", "shape": "independent"}}
},
{
"width": 535, "height": 459,
"title": {"text": "E", "dx": -66, "offset": 24},
"data": {"name": "E"},
"encoding": {
"x": {"field": "logM", "type": "quantitative", "scale": {"domain": [-9, -5], "nice": false, "zero": false}, "axis": {"title": "Log SNP [M]", "values": [-9, -8, -7, -6, -5], "labelExpr": "replace(datum.label, '−', '-')"}},
"y": {"field": "relaxation", "type": "quantitative", "scale": {"domain": [0, 110], "reverse": true, "nice": false, "zero": false}, "axis": {"title": "Relaxation (%)", "values": [0, 20, 40, 60, 80, 100]}}
},
"layer": [
{"mark": {"type": "line", "strokeWidth": 3}, "encoding": {"color": {"field": "group", "type": "nominal", "scale": {"domain": ["TBR2ˢᴹ▴", "TBR2ᶠ/ᶠ"], "range": ["#8ec1f7", "#ff1475"]}, "legend": null}}},
{"mark": {"type": "rule", "strokeWidth": 3}, "encoding": {"y": {"field": "lo", "type": "quantitative", "scale": {"domain": [0, 110], "reverse": true, "nice": false, "zero": false}, "axis": {"title": "Relaxation (%)", "values": [0, 20, 40, 60, 80, 100]}}, "y2": {"field": "hi"}, "color": {"field": "group", "type": "nominal", "scale": {"domain": ["TBR2ˢᴹ▴", "TBR2ᶠ/ᶠ"], "range": ["#8080ff", "#c8105a"]}, "legend": null}}},
{"mark": {"type": "tick", "orient": "horizontal", "size": 11, "thickness": 3}, "encoding": {"y": {"field": "lo", "type": "quantitative", "scale": {"domain": [0, 110], "reverse": true, "nice": false, "zero": false}, "axis": {"title": "Relaxation (%)", "values": [0, 20, 40, 60, 80, 100]}}, "color": {"field": "group", "type": "nominal", "scale": {"domain": ["TBR2ˢᴹ▴", "TBR2ᶠ/ᶠ"], "range": ["#8080ff", "#c8105a"]}, "legend": null}}},
{"mark": {"type": "tick", "orient": "horizontal", "size": 11, "thickness": 3}, "encoding": {"y": {"field": "hi", "type": "quantitative", "scale": {"domain": [0, 110], "reverse": true, "nice": false, "zero": false}, "axis": {"title": "Relaxation (%)", "values": [0, 20, 40, 60, 80, 100]}}, "color": {"field": "group", "type": "nominal", "scale": {"domain": ["TBR2ˢᴹ▴", "TBR2ᶠ/ᶠ"], "range": ["#8080ff", "#c8105a"]}, "legend": null}}},
{"mark": {"type": "point", "filled": true, "opacity": 1, "size": 160}, "encoding": {"color": {"field": "group", "type": "nominal", "scale": {"domain": ["TBR2ˢᴹ▴", "TBR2ᶠ/ᶠ"], "range": ["#5050ff", "#a3003f"]}, "legend": null}, "shape": {"field": "group", "type": "nominal", "scale": {"domain": ["TBR2ˢᴹ▴", "TBR2ᶠ/ᶠ"], "range": ["square", "circle"]}, "legend": null}}},
{"mark": {"type": "point", "filled": true, "opacity": 1, "size": 0}, "encoding": {
"color": {"field": "group", "type": "nominal", "scale": {"domain": ["TBR2ˢᴹ▴", "TBR2ᶠ/ᶠ"], "range": ["#5050ff", "#a3003f"]}, "legend": {"title": null, "orient": "none", "legendX": 23, "legendY": 378}},
"shape": {"field": "group", "type": "nominal", "scale": {"domain": ["TBR2ˢᴹ▴", "TBR2ᶠ/ᶠ"], "range": ["M-1.3,-0.12H1.3V0.12H-1.3Z M-0.43,-0.43H0.43V0.43H-0.43Z", "M-1.3,-0.12H1.3V0.12H-1.3Z M0.45,0A0.45,0.45,0,1,1,-0.45,0A0.45,0.45,0,1,1,0.45,0Z"]}, "legend": {"title": null, "orient": "none", "legendX": 23, "legendY": 378}}}},
{"data": {"name": "E_stars"}, "mark": {"type": "text", "fontSize": 20, "baseline": "middle", "dy": 4}, "encoding": {"text": {"field": "label"}}}
],
"resolve": {"scale": {"color": "independent", "shape": "independent"}}
},
{
"width": 526, "height": 458,
"title": {"text": "F", "dx": -134, "offset": 24},
"data": {"name": "F"},
"encoding": {
"x": {"field": "logM", "type": "quantitative", "scale": {"domain": [-9, -5], "nice": false, "zero": false}, "axis": {"title": "Log SNP [M]", "values": [-9, -8, -7, -6, -5], "labelExpr": "replace(datum.label, '−', '-')"}},
"y": {"field": "relaxation", "type": "quantitative", "scale": {"domain": [0, 110], "reverse": true, "nice": false, "zero": false}, "axis": {"title": "Relaxation (%)", "values": [0, 20, 40, 60, 80, 100]}}
},
"layer": [
{"mark": {"type": "line", "strokeWidth": 3}, "encoding": {"color": {"field": "group", "type": "nominal", "scale": {"domain": ["TBR2ˢᴹ▴", "TBR2ᶠ/ᶠ"], "range": ["#4da3f5", "#ff5c8c"]}, "legend": null}}},
{"mark": {"type": "rule", "strokeWidth": 1.5}, "encoding": {"y": {"field": "lo", "type": "quantitative", "scale": {"domain": [0, 110], "reverse": true, "nice": false, "zero": false}, "axis": {"title": "Relaxation (%)", "values": [0, 20, 40, 60, 80, 100]}}, "y2": {"field": "hi"}, "color": {"field": "group", "type": "nominal", "scale": {"domain": ["TBR2ˢᴹ▴", "TBR2ᶠ/ᶠ"], "range": ["#c0c0f4", "#f4a0bc"]}, "legend": null}}},
{"mark": {"type": "tick", "orient": "horizontal", "size": 11, "thickness": 1.5}, "encoding": {"y": {"field": "lo", "type": "quantitative", "scale": {"domain": [0, 110], "reverse": true, "nice": false, "zero": false}, "axis": {"title": "Relaxation (%)", "values": [0, 20, 40, 60, 80, 100]}}, "color": {"field": "group", "type": "nominal", "scale": {"domain": ["TBR2ˢᴹ▴", "TBR2ᶠ/ᶠ"], "range": ["#c0c0f4", "#f4a0bc"]}, "legend": null}}},
{"mark": {"type": "tick", "orient": "horizontal", "size": 11, "thickness": 1.5}, "encoding": {"y": {"field": "hi", "type": "quantitative", "scale": {"domain": [0, 110], "reverse": true, "nice": false, "zero": false}, "axis": {"title": "Relaxation (%)", "values": [0, 20, 40, 60, 80, 100]}}, "color": {"field": "group", "type": "nominal", "scale": {"domain": ["TBR2ˢᴹ▴", "TBR2ᶠ/ᶠ"], "range": ["#c0c0f4", "#f4a0bc"]}, "legend": null}}},
{"mark": {"type": "point", "filled": true, "opacity": 1, "size": 160}, "encoding": {"color": {"field": "group", "type": "nominal", "scale": {"domain": ["TBR2ˢᴹ▴", "TBR2ᶠ/ᶠ"], "range": ["#5050ff", "#a3003f"]}, "legend": null}, "shape": {"field": "group", "type": "nominal", "scale": {"domain": ["TBR2ˢᴹ▴", "TBR2ᶠ/ᶠ"], "range": ["square", "circle"]}, "legend": null}}},
{"mark": {"type": "point", "filled": true, "opacity": 1, "size": 0}, "encoding": {
"color": {"field": "group", "type": "nominal", "scale": {"domain": ["TBR2ˢᴹ▴", "TBR2ᶠ/ᶠ"], "range": ["#5050ff", "#a3003f"]}, "legend": {"title": null, "orient": "none", "legendX": 23, "legendY": 373}},
"shape": {"field": "group", "type": "nominal", "scale": {"domain": ["TBR2ˢᴹ▴", "TBR2ᶠ/ᶠ"], "range": ["M-1.3,-0.12H1.3V0.12H-1.3Z M-0.43,-0.43H0.43V0.43H-0.43Z", "M-1.3,-0.12H1.3V0.12H-1.3Z M0.45,0A0.45,0.45,0,1,1,-0.45,0A0.45,0.45,0,1,1,0.45,0Z"]}, "legend": {"title": null, "orient": "none", "legendX": 23, "legendY": 373}}}},
{"data": {"name": "F_stars"}, "mark": {"type": "text", "fontSize": 20, "baseline": "middle", "dy": 4}, "encoding": {"text": {"field": "label"}}}
],
"resolve": {"scale": {"color": "independent", "shape": "independent"}}
}
],
"config": {
"font": "Liberation Sans",
"view": {"stroke": null},
"axis": {"grid": false, "domainColor": "black", "domainWidth": 3.5, "tickColor": "black", "tickWidth": 3, "tickSize": 8, "labelFont": "Liberation Sans", "labelFontSize": 21, "labelFontWeight": "bold", "labelColor": "black", "labelPadding": 4, "titleFont": "Liberation Sans", "titleFontSize": 33, "titleFontWeight": "bold", "titleColor": "black"},
"axisX": {"labelPadding": 10, "titlePadding": 13, "titleFontSize": 32},
"axisY": {"titlePadding": 10},
"legend": {"labelFont": "Liberation Sans", "labelFontSize": 24, "labelFontWeight": "bold", "labelColor": "black", "symbolSize": 900, "rowPadding": 4, "padding": 0, "labelOffset": 14, "labelLimit": 400},
"title": {"font": "Liberation Sans", "fontSize": 50, "fontWeight": "bold", "anchor": "start", "frame": "group", "color": "black", "baseline": "alphabetic"}
}
}
